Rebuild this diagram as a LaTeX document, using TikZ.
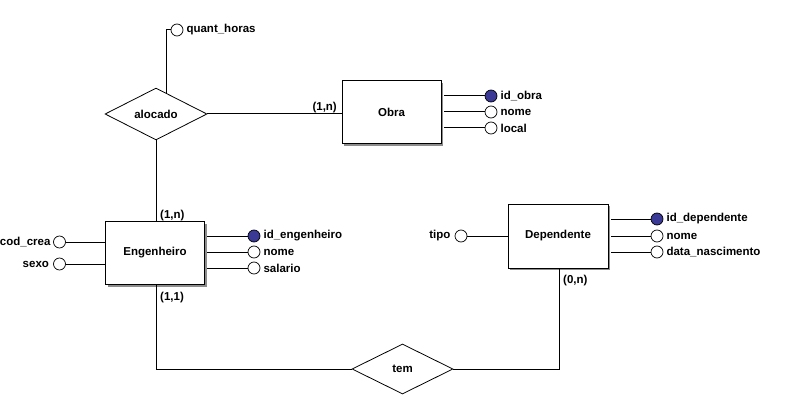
\documentclass[tikz,border=0pt]{standalone}
\usepackage{fontspec}
\setmainfont{Liberation Sans}
\usetikzlibrary{shapes.geometric,shadows,calc}
\definecolor{keyblue}{RGB}{58,58,150}
\definecolor{shadowgray}{RGB}{140,140,140}
\begin{document}
\begin{tikzpicture}[x=1pt,y=-1pt,
 txt/.style={font=\fontsize{11.5}{13}\selectfont\bfseries, inner sep=0pt},
 entity/.style={draw, line width=1pt, fill=white, minimum width=99pt, minimum height=63pt, inner sep=0pt, txt,
   drop shadow={shadow xshift=2pt, shadow yshift=-2pt, opacity=1, fill=shadowgray}},
 rel/.style={draw, diamond, line width=0.8pt, fill=white, minimum width=102pt, minimum height=50pt, inner sep=0pt, txt},
 attr/.style={circle, draw, line width=0.7pt, fill=white, minimum size=12pt, inner sep=0pt},
 keyattr/.style={attr, fill=keyblue},
 conn/.style={line width=1pt},
 rtxt/.style={txt, anchor=west, xshift=3pt},
 ltxt/.style={txt, anchor=east, xshift=-4pt},
 card/.style={txt}]
\fill[white] (0,0) rectangle (795,401);
\useasboundingbox (0,0) rectangle (795,401);

% entities
\node[entity] (obra) at (391.5,112.5) {Obra};
\node[entity] (eng) at (155,253) {Engenheiro};
\node[entity, minimum width=100pt, minimum height=64pt] (dep) at (558,236) {Dependente};

% relationships
\node[rel] (aloc) at (156,114) {alocado};
\node[rel, minimum width=101pt] (tem) at (402.5,369) {tem};

% connectors between entities and relationships
\draw[conn] (aloc.east) -- (aloc.east -| obra.west);
\draw[conn] (aloc.south) -- (aloc.south |- eng.north);
\draw[conn] (aloc.south |- eng.south) |- (tem.west);
\draw[conn] (tem.east) -| ([xshift=1pt]dep.south);

% cardinalities
\node[card, anchor=base east] (c1) at (337,111) {(1,n)};
\node[card, anchor=base west] (c2) at (160,218) {(1,n)};
\node[card, anchor=base west] (c3) at (160,300) {(1,1)};
\node[card, anchor=base west] (c4) at (563,283) {(0,n)};

% alocado attribute
\node[attr] (qh) at (177,30) {};
\node[rtxt] (qht) at (qh.east) {quant\_horas};
\coordinate (qhs) at ($(aloc.north)!0.2!(aloc.east)$);
\draw[conn] (qhs) |- (qh.west);

% Obra attributes
\node[keyattr] (o1) at (491,96) {};
\node[attr] (o2) at (491,112) {};
\node[attr] (o3) at (491,128) {};
\node[rtxt] at (o1.east) {id\_obra};
\node[rtxt] at (o2.east) {nome};
\node[rtxt] at (o3.east) {local};
\foreach \a in {o1,o2,o3} \draw[conn] (\a.west) -- ([xshift=2pt]\a.west -| obra.east);

% Engenheiro attributes
\node[keyattr] (e1) at (254,236) {};
\node[attr] (e2) at (254,252) {};
\node[attr] (e3) at (254,268) {};
\node[rtxt] at (e1.east) {id\_engenheiro};
\node[rtxt] at (e2.east) {nome};
\node[rtxt] at (e3.east) {salario};
\foreach \a in {e1,e2,e3} \draw[conn] (\a.west) -- ([xshift=2pt]\a.west -| eng.east);
\node[attr] (e4) at (59.5,242) {};
\node[attr] (e5) at (59.5,264) {};
\node[ltxt, xshift=1.5pt] at (e4.west) {cod\_crea};
\node[ltxt] at (e5.west) {sexo};
\foreach \a in {e4,e5} \draw[conn] (\a.east) -- (\a.east -| eng.west);

% Dependente attributes
\node[keyattr] (d1) at (657,219) {};
\node[attr] (d2) at (657,236) {};
\node[attr] (d3) at (657,252) {};
\node[rtxt] at (d1.east) {id\_dependente};
\node[rtxt] at (d2.east) {nome};
\node[rtxt] at (d3.east) {data\_nascimento};
\foreach \a in {d1,d2,d3} \draw[conn] (\a.west) -- ([xshift=2pt]\a.west -| dep.east);
\node[attr] (d4) at (461,236) {};
\node[ltxt] at (d4.west) {tipo};
\draw[conn] (d4.east) -- (d4.east -| dep.west);
\end{tikzpicture}
\end{document}
